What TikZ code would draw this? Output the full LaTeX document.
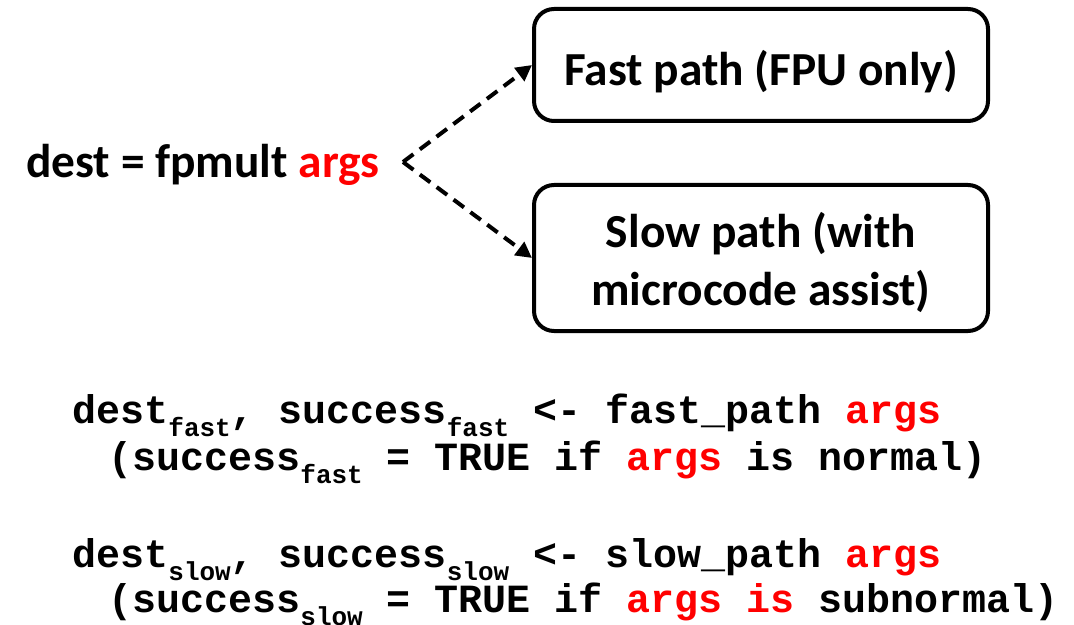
\documentclass[tikz,border=0pt]{standalone}
\usepackage{fontspec}
\setmainfont{Carlito}
\newfontfamily\codefont{Liberation Mono}
\usetikzlibrary{arrows.meta}
\definecolor{argred}{HTML}{FF0000}
\newcommand{\redtxt}[1]{\textcolor{argred}{#1}}
\newcommand{\cdsub}[1]{\raisebox{-6.5pt}{\fontsize{13}{13}\selectfont #1}}
\newcommand{\boxstrut}[1]{\rule{0pt}{#1}}

\begin{document}
\begin{tikzpicture}[x=0.5pt,y=-0.5pt,
    box/.style={draw,rounded corners=10pt,line width=2pt,minimum width=227pt,align=center,font=\fontsize{23.7}{29}\selectfont\bfseries},
    branch/.style={line width=2pt,dash pattern=on 6.5pt off 4pt,-{Triangle[length=8pt,width=8pt]}},
    codeline/.style={anchor=base west,inner sep=0pt,font=\codefont\bfseries\fontsize{20}{24}\selectfont}]
  \useasboundingbox (0,0) rectangle (1074,625);

  \node[box,minimum height=56pt] (fast) at (761,65) {\boxstrut{24pt}Fast path (FPU only)};
  \node[box,minimum height=73pt] (slow) at (761,258) {\boxstrut{22.5pt}Slow path (with\\microcode assist)};
  \node[anchor=base,inner sep=0pt,font=\fontsize{23.7}{28.5}\selectfont\bfseries] (op) at (203,178) {dest = fpmult \redtxt{args}};
  \coordinate (fork) at (403,162);

  \draw[branch] (fork) -- (fast.west);
  \draw[branch] (fork) -- (slow.west);

  % the two paths written out
  \node[codeline] (fastcall) at (72,423) {dest\cdsub{fast}, success\cdsub{fast} <- fast\_path \redtxt{args}};
  \node[codeline] (fastnote) at (108,470) {(success\cdsub{fast} = TRUE if \redtxt{args} is normal)};
  \node[codeline] (slowcall) at (72,567) {dest\cdsub{slow}, success\cdsub{slow} <- slow\_path \redtxt{args}};
  \node[codeline] (slownote) at (108,612) {(success\cdsub{slow} = TRUE if \redtxt{args is} subnormal)};
\end{tikzpicture}
\end{document}
